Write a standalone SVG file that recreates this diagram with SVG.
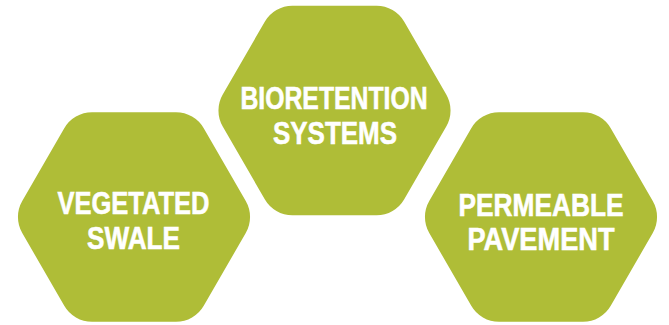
<svg xmlns="http://www.w3.org/2000/svg" width="669" height="325" viewBox="0 0 669 325">
<defs>
<style>
.hex{fill:#afbd37}
.lbl{fill:#ffffff;stroke:#ffffff;stroke-width:0.6;font-family:"Liberation Sans",Arial,sans-serif;font-weight:bold;font-size:32px;text-anchor:middle}
</style>
<path id="hexShape" d="M-42.03,-104.79 L42.03,-104.79 A32,32 0 0 1 69.74,-88.79 L111.76,-16 A32,32 0 0 1 111.76,16 L69.74,88.79 A32,32 0 0 1 42.03,104.79 L-42.03,104.79 A32,32 0 0 1 -69.74,88.79 L-111.76,16 A32,32 0 0 1 -111.76,-16 L-69.74,-88.79 A32,32 0 0 1 -42.03,-104.79 Z"/>
</defs>
<rect width="669" height="325" fill="#ffffff"/>
<g id="connectors"></g>
<g id="vegetated-swale">
<use href="#hexShape" class="hex" transform="translate(134,217)"/>
<text class="lbl" x="133.5" y="214.3" textLength="152" lengthAdjust="spacingAndGlyphs">VEGETATED</text>
<text class="lbl" x="133.5" y="249.3" textLength="93" lengthAdjust="spacingAndGlyphs">SWALE</text>
</g>
<g id="bioretention-systems">
<use href="#hexShape" class="hex" transform="translate(334.5,110.5)"/>
<text class="lbl" x="334" y="109.3" textLength="187" lengthAdjust="spacingAndGlyphs">BIORETENTION</text>
<text class="lbl" x="335" y="143.5" textLength="124" lengthAdjust="spacingAndGlyphs">SYSTEMS</text>
</g>
<g id="permeable-pavement">
<use href="#hexShape" class="hex" transform="translate(541,217)"/>
<text class="lbl" x="541" y="215.5" textLength="165" lengthAdjust="spacingAndGlyphs">PERMEABLE</text>
<text class="lbl" x="541" y="250" textLength="147" lengthAdjust="spacingAndGlyphs">PAVEMENT</text>
</g>
</svg>
